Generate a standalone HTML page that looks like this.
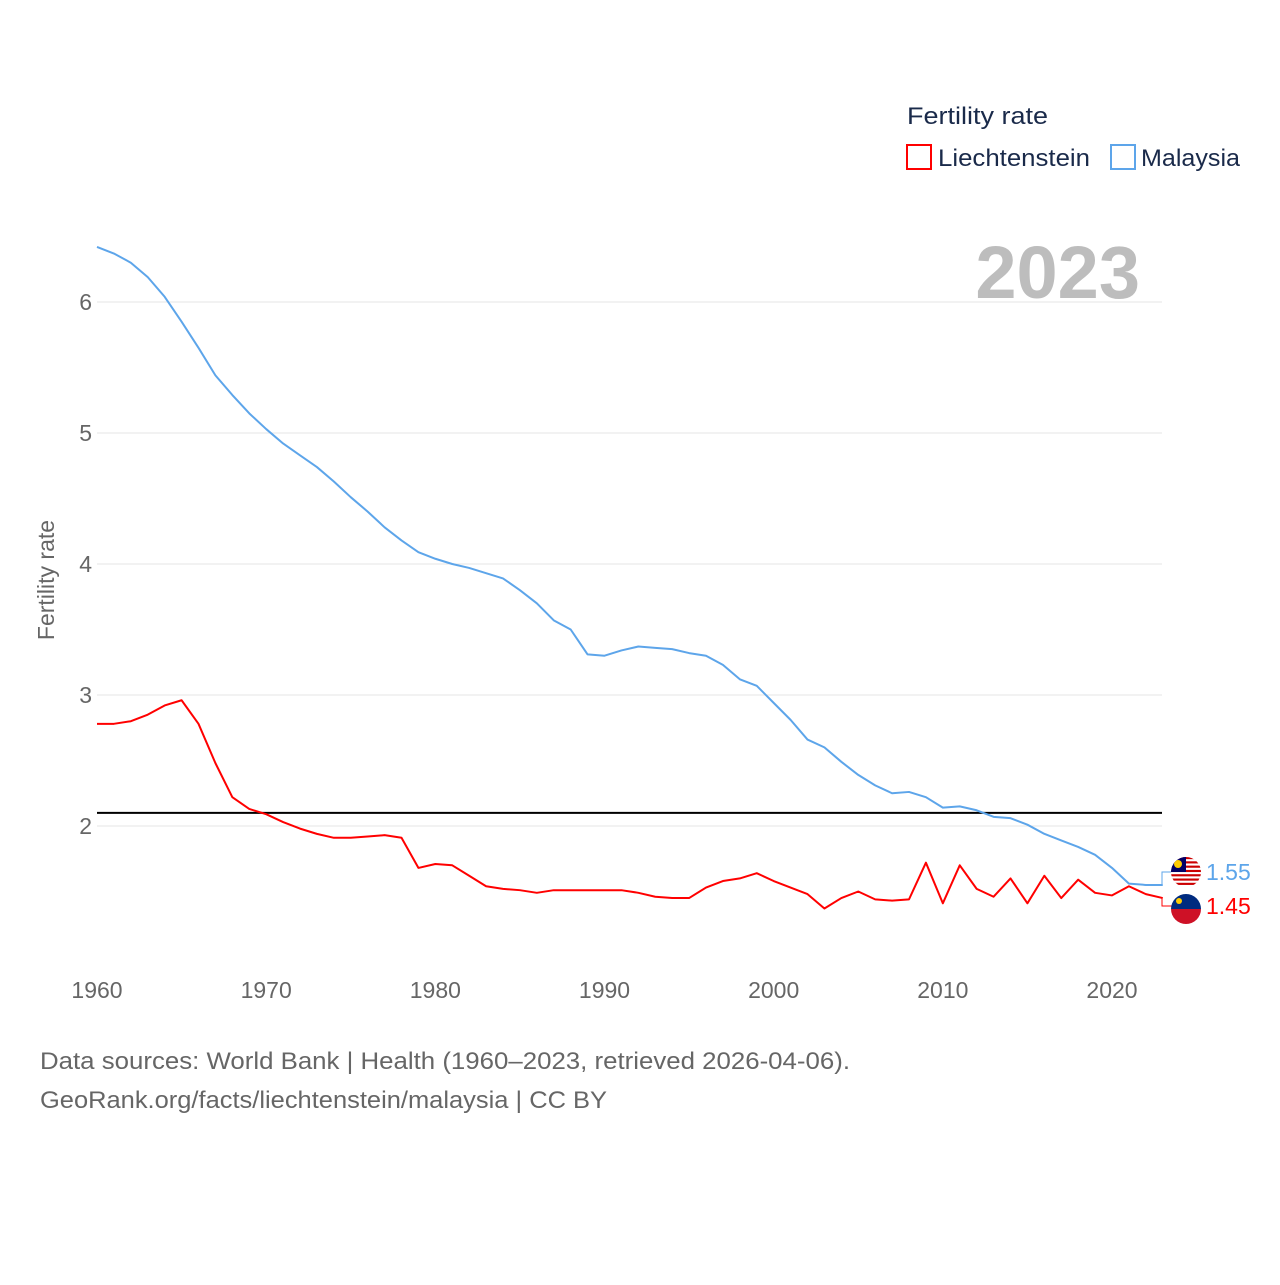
<!DOCTYPE html>
<html><head><meta charset="utf-8"><style>
body{margin:0;background:#fff;font-family:"Liberation Sans",sans-serif}
svg text{font-family:"Liberation Sans",sans-serif}
</style></head><body>
<svg id="chart" width="1280" height="1280" viewBox="0 0 1280 1280">
<g id="grid"></g>
<g id="axes"></g>
<g id="series"></g>
<text x="1140" y="298" text-anchor="end" font-size="74" font-weight="bold" fill="#bdbdbd">2023</text>
<text x="54" y="580" transform="rotate(-90 54 580)" text-anchor="middle" font-size="23" fill="#666">Fertility rate</text>
<g>
<text x="907" y="124" font-size="24" fill="#1a2a4a" textLength="141" lengthAdjust="spacingAndGlyphs">Fertility rate</text>
<g><rect x="907" y="145" width="24" height="24" fill="none" stroke="#f00" stroke-width="2"/><text x="938" y="166" font-size="24" fill="#1a2a4a" textLength="152" lengthAdjust="spacingAndGlyphs">Liechtenstein</text></g>
<g><rect x="1111" y="145" width="24" height="24" fill="none" stroke="#5da5ea" stroke-width="2"/><text x="1141" y="166" font-size="24" fill="#1a2a4a" textLength="99" lengthAdjust="spacingAndGlyphs">Malaysia</text></g>
</g>
<text x="40" y="1069" font-size="24" fill="#666" textLength="810" lengthAdjust="spacingAndGlyphs">Data sources: World Bank | Health (1960–2023, retrieved 2026-04-06).</text>
<text x="40" y="1108" font-size="24" fill="#666" textLength="567" lengthAdjust="spacingAndGlyphs">GeoRank.org/facts/liechtenstein/malaysia | CC BY</text>
</svg>
<script>
const years=[];for(let y=1960;y<=2023;y++)years.push(y);
const malaysia=[6.42,6.37,6.30,6.19,6.04,5.85,5.65,5.44,5.29,5.15,5.03,4.92,4.83,4.74,4.63,4.51,4.40,4.28,4.18,4.09,4.04,4.00,3.97,3.93,3.89,3.80,3.70,3.57,3.50,3.31,3.30,3.34,3.37,3.36,3.35,3.32,3.30,3.23,3.12,3.07,2.94,2.81,2.66,2.60,2.49,2.39,2.31,2.25,2.26,2.22,2.14,2.15,2.12,2.07,2.06,2.01,1.94,1.89,1.84,1.78,1.68,1.56,1.55,1.55];
const liechtenstein=[2.78,2.78,2.80,2.85,2.92,2.96,2.78,2.48,2.22,2.13,2.09,2.03,1.98,1.94,1.91,1.91,1.92,1.93,1.91,1.68,1.71,1.70,1.62,1.54,1.52,1.51,1.49,1.51,1.51,1.51,1.51,1.51,1.49,1.46,1.45,1.45,1.53,1.58,1.60,1.64,1.58,1.53,1.48,1.37,1.45,1.50,1.44,1.43,1.44,1.72,1.41,1.70,1.52,1.46,1.60,1.41,1.62,1.45,1.59,1.49,1.47,1.54,1.48,1.45];
const yTicks=[2,3,4,5,6];
const xTicks=[1960,1970,1980,1990,2000,2010,2020];
const replacement=2.1;
const NS="http://www.w3.org/2000/svg";
const X=y=>97+(y-1960)*(1112-97)/60;
const Y=v=>826-(v-2)*131;
function mk(tag,attrs,parent){const e=document.createElementNS(NS,tag);for(const k in attrs)e.setAttribute(k,attrs[k]);document.getElementById(parent).appendChild(e);return e;}
yTicks.forEach(t=>{
 const l=mk('line',{x1:97,x2:1162,y1:Y(t),y2:Y(t),stroke:'#e6e6e6','stroke-width':1},'grid');
 
 
 const tx=mk('text',{x:92,y:Y(t)+8,'text-anchor':'end','font-size':23,fill:'#666'},'axes');
 tx.textContent=t;
 
 
});
xTicks.forEach(t=>{
 const tx=mk('text',{x:X(t),y:998,'text-anchor':'middle','font-size':23,fill:'#666'},'axes');
 tx.textContent=t;
 
 
});
const rl=mk('line',{x1:97,x2:1162,y1:Y(replacement),y2:Y(replacement),stroke:'#000','stroke-width':2},'series');


function line(vals,color,name){
 const p=mk('polyline',{points:vals.map((v,i)=>X(years[i])+','+Y(v)).join(' '),fill:'none',stroke:color,'stroke-width':2,'stroke-linejoin':'round'},'series');
 
 
}
line(malaysia,'#5da5ea','malaysia-line');
line(liechtenstein,'#f00','liechtenstein-line');
const mv=malaysia[malaysia.length-1],lv=liechtenstein[liechtenstein.length-1];
const my=872,ly=906;
const c1=mk('polyline',{points:`1162,${Y(mv)} 1162,${my} 1172,${my}`,fill:'none',stroke:'#5da5ea','stroke-width':1},'series');


const c2=mk('polyline',{points:`1162,${Y(lv)} 1162,${ly} 1172,${ly}`,fill:'none',stroke:'#f00','stroke-width':1},'series');


const fm=mk('g',{},'series');


fm.innerHTML=`<clipPath id="cm"><circle cx="1186" cy="${my}" r="15"/></clipPath><g clip-path="url(#cm)"><rect x="1171" y="${my-15}" width="30" height="30" fill="#fff"/>${[0,1,2,3,4,5,6].map(i=>`<rect x="1171" y="${my-15+i*4.3}" width="30" height="2.15" fill="#cc0001"/>`).join('')}<rect x="1171" y="${my-15}" width="15" height="15" fill="#010066"/><circle cx="1178" cy="${my-8}" r="4" fill="#fc0"/></g>`;
const fl=mk('g',{},'series');


fl.innerHTML=`<clipPath id="cl"><circle cx="1186" cy="${ly+3}" r="15"/></clipPath><g clip-path="url(#cl)"><rect x="1171" y="${ly-12}" width="30" height="15" fill="#002b7f"/><rect x="1171" y="${ly+3}" width="30" height="15" fill="#ce1126"/><circle cx="1179" cy="${ly-5}" r="3" fill="#fc0"/></g>`;
const t1=mk('text',{x:1206,y:my+8,'font-size':23,fill:'#5da5ea'},'series');
t1.textContent=mv.toFixed(2);


const t2=mk('text',{x:1206,y:ly+8,'font-size':23,fill:'#f00'},'series');
t2.textContent=lv.toFixed(2);


</script>
</body></html>
